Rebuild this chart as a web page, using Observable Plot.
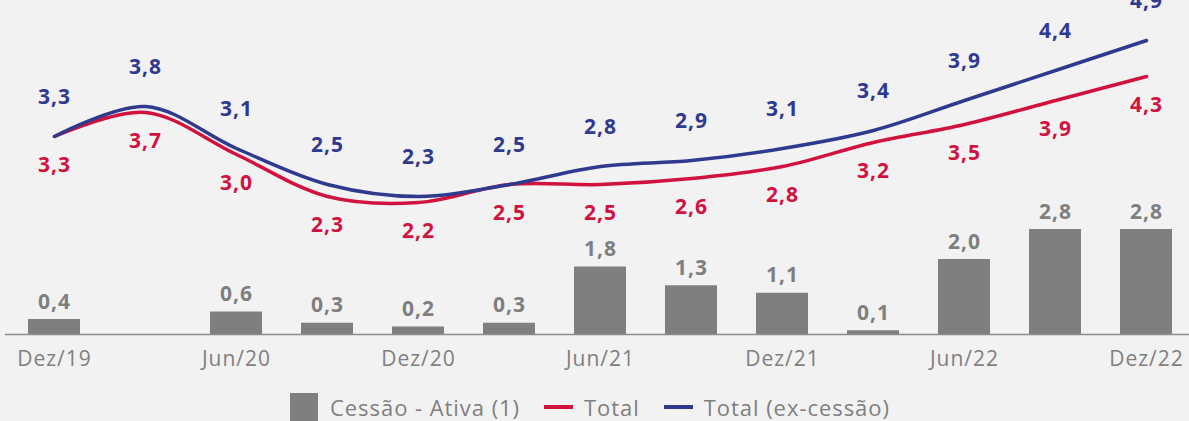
<!DOCTYPE html>
<html>
<head>
<meta charset="utf-8">
<script src="https://cdn.jsdelivr.net/npm/d3@7"></script>
<script src="https://cdn.jsdelivr.net/npm/@observablehq/plot@0.6"></script>
<style>
  html, body { margin: 0; padding: 0; background: #f2f2f2; }
  #chart svg { display: block; background: #f2f2f2; overflow: visible; }
  #chart svg g[aria-label="x-axis tick label"] text { letter-spacing: 1px; }
  #chart svg g[aria-label="text"] text { letter-spacing: 1px; }
  .legend { display: flex; align-items: center; height: 36px; padding-left: 290px; margin-top: 9px;
    font-family: "Open Sans", sans-serif; font-size: 22px; letter-spacing: 0.95px; color: #7f7f7f; }
  .legend .sq { width: 28px; height: 28px; background: #7f7f7f; margin-right: 12px; }
  .legend .ln { width: 29px; height: 4px; margin-left: 24px; margin-right: 11px; }
</style>
</head>
<body>
<div id="chart"></div>
<div class="legend">
  <span class="sq"></span><span>Cessão - Ativa (1)</span>
  <span class="ln" style="background:#d1123f"></span><span>Total</span>
  <span class="ln" style="background:#2f3a8f"></span><span>Total (ex-cessão)</span>
</div>
<script>
const periods = ["Dez/19","Mar/20","Jun/20","Set/20","Dez/20","Mar/21","Jun/21","Set/21","Dez/21","Mar/22","Jun/22","Set/22","Dez/22"];
const cessao  = [0.4, null, 0.6, 0.3, 0.2, 0.3, 1.8, 1.3, 1.1, 0.1, 2.0, 2.8, 2.8];
const total   = [3.3, 3.7, 3.0, 2.3, 2.2, 2.5, 2.5, 2.6, 2.8, 3.2, 3.5, 3.9, 4.3];
const totalEx = [3.3, 3.8, 3.1, 2.5, 2.3, 2.5, 2.8, 2.9, 3.1, 3.4, 3.9, 4.4, 4.9];
const tickLabels = ["Dez/19","Jun/20","Dez/20","Jun/21","Dez/21","Jun/22","Dez/22"];

const RED = "#d1123f", BLUE = "#2f3a8f", GRAY = "#7f7f7f";
const barFactor = 0.625; // secondary axis ratio for bars
const fmt = v => d3.format(".1f")(v).replace(".", ",");

const bars = periods.map((p, i) => ({p, v: cessao[i]})).filter(d => d.v != null);
const red = periods.map((p, i) => ({p, v: total[i]}));
const blue = periods.map((p, i) => ({p, v: totalEx[i]}));

const chart = Plot.plot({
  width: 1189,
  height: 380,
  marginTop: 0,
  marginLeft: 25,
  marginRight: 14,
  marginBottom: 46,
  style: {background: "#f2f2f2", fontFamily: "Open Sans, sans-serif"},
  x: {type: "band", domain: periods, paddingInner: 0.43, paddingOuter: 0, label: null},
  y: {domain: [0, 5.5], range: [334, 4], axis: null},
  marks: [
    Plot.barY(bars, {x: "p", y: d => d.v * barFactor, fill: GRAY}),
    Plot.text(bars, {x: "p", y: d => d.v * barFactor, text: d => fmt(d.v), dy: -17.5, fill: GRAY, fontWeight: 700, fontSize: 21}),
    Plot.ruleY([0], {stroke: "#8c8c8c", strokeWidth: 1.5, insetLeft: -20, insetRight: -14}),
    Plot.line(red, {x: "p", y: "v", stroke: RED, strokeWidth: 3.5, curve: "catmull-rom"}),
    Plot.line(blue, {x: "p", y: "v", stroke: BLUE, strokeWidth: 3.5, curve: "catmull-rom"}),
    Plot.text(red, {x: "p", y: "v", text: d => fmt(d.v), dy: 29, fill: RED, fontWeight: 700, fontSize: 21}),
    Plot.text(blue, {x: "p", y: "v", text: d => fmt(d.v), dy: -39.5, fill: BLUE, fontWeight: 700, fontSize: 21}),
    Plot.axisX({ticks: tickLabels, tickSize: 0, tickPadding: 17, fontSize: 21, fill: GRAY, label: null})
  ]
});
document.getElementById("chart").append(chart);
</script>
</body>
</html>
